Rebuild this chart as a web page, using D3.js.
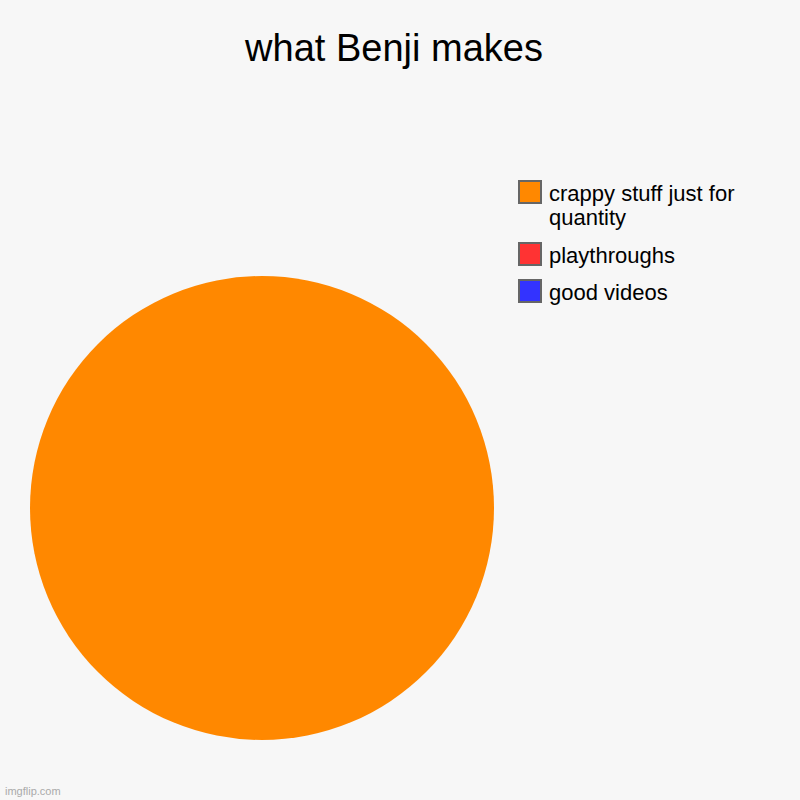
<!DOCTYPE html>
<html><head><meta charset="utf-8">
<script src="https://cdn.jsdelivr.net/npm/d3@7/dist/d3.min.js"></script>
<style>body{margin:0;background:#f7f7f7;}svg{display:block;}</style>
</head><body>
<script>
const categories = ["crappy stuff just for quantity", "playthroughs", "good videos"];
const values = [100, 0, 0];
const colors = ["#ff8800", "#ff3333", "#3333ff"];
const legendLines = [["crappy stuff just for", "quantity"], ["playthroughs"], ["good videos"]];
const title = "what Benji makes";

const W = 800, H = 800;
const svg = d3.select("body").append("svg").attr("width", W).attr("height", H)
  .style("font-family", "'Liberation Sans', Arial, sans-serif");
svg.append("rect").attr("width", W).attr("height", H).attr("fill", "#f7f7f7");

svg.append("text").attr("x", 394).attr("y", 61).attr("text-anchor", "middle")
  .attr("font-size", 38).attr("fill", "#000").text(title);

const data = categories.map((c, i) => ({c, v: values[i], col: colors[i]}));
const pie = d3.pie().sort(null).value(d => d.v);
const arc = d3.arc().innerRadius(0).outerRadius(232);
const g = svg.append("g").attr("transform", "translate(262,508)");
g.selectAll("path").data(pie(data).filter(d => d.data.v > 0)).join("path")
  .attr("d", arc).attr("fill", d => d.data.col);

const legY = d3.scaleOrdinal().domain(categories).range([181, 243, 280]);
const lg = svg.append("g");
data.forEach((d, i) => {
  const y = legY(d.c);
  lg.append("rect").attr("x", 519).attr("y", y).attr("width", 22).attr("height", 22)
    .attr("fill", d.col).attr("stroke", "#666").attr("stroke-width", 2);
  const t = lg.append("text").attr("x", 549).attr("y", y + 20).attr("font-size", 22).attr("fill", "#000");
  legendLines[i].forEach((ln, j) => {
    t.append("tspan").attr("x", 549).attr("dy", j === 0 ? 0 : 24).text(ln);
  });
});

svg.append("text").attr("x", 5).attr("y", 795).attr("font-size", 11).attr("fill", "#aaa").text("imgflip.com");
</script>
</body></html>
